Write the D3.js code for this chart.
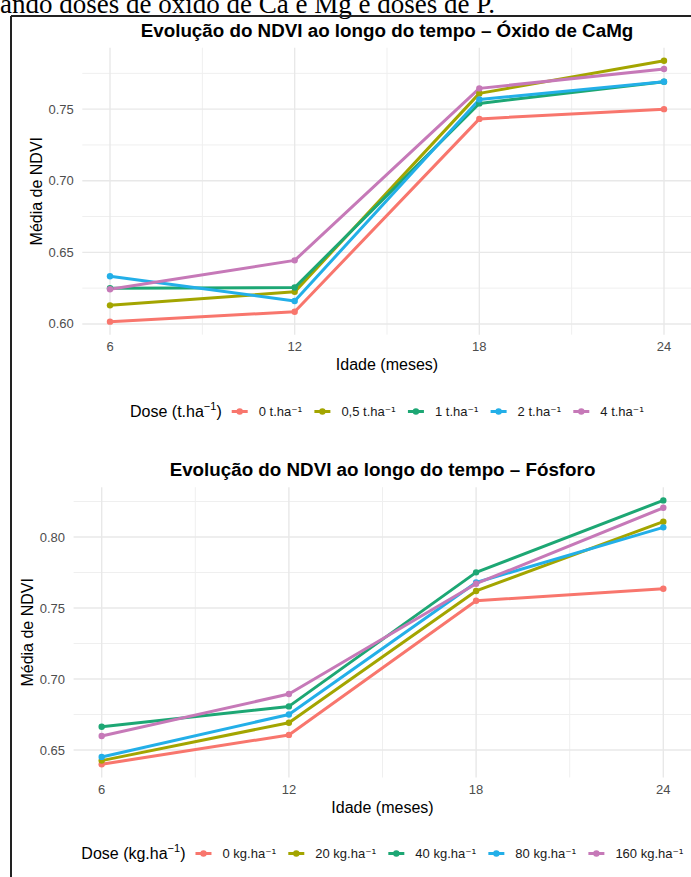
<!DOCTYPE html>
<html><head><meta charset="utf-8">
<script src="https://cdn.jsdelivr.net/npm/d3@7"></script>
<style>
html,body{margin:0;padding:0;background:#fff;}
svg{display:block;}
text{font-family:"Liberation Sans",Arial,sans-serif;}
</style></head>
<body>
<svg id="chart" width="691" height="877"></svg>
<script>
// ---- data ----
const months = [6, 12, 18, 24];
const monthTicks = ["6", "12", "18", "24"];
const camgDoses = ["0 t.ha⁻¹", "0,5 t.ha⁻¹", "1 t.ha⁻¹", "2 t.ha⁻¹", "4 t.ha⁻¹"];
const camg0 = [0.6016, 0.6085, 0.7432, 0.7500];
const camg05 = [0.6130, 0.6224, 0.7610, 0.7838];
const camg1 = [0.6249, 0.6254, 0.7540, 0.7692];
const camg2 = [0.6333, 0.6160, 0.7568, 0.7692];
const camg4 = [0.6242, 0.6444, 0.7645, 0.7780];
const camgTicks = [0.60, 0.65, 0.70, 0.75];
const pDoses = ["0 kg.ha⁻¹", "20 kg.ha⁻¹", "40 kg.ha⁻¹", "80 kg.ha⁻¹", "160 kg.ha⁻¹"];
const p0 = [0.6399, 0.6606, 0.7551, 0.7636];
const p20 = [0.6425, 0.6692, 0.7620, 0.8108];
const p40 = [0.6664, 0.6807, 0.7751, 0.8258];
const p80 = [0.6451, 0.6750, 0.7680, 0.8068];
const p160 = [0.6598, 0.6894, 0.7671, 0.8206];
const pTicks = [0.65, 0.70, 0.75, 0.80];
const colors = ["#F8766D", "#A3A500", "#1DA774", "#23AFE8", "#C679B8"];

const svg = d3.select("#chart");

// header text and frame
svg.append("text").attr("x", 0).attr("y", 13)
  .style("font-family", "'Liberation Serif','Times New Roman',serif")
  .style("font-size", "27px").attr("fill", "#000")
  .text("ando doses de óxido de Ca e Mg e doses de P.");
svg.append("line").attr("x1", 11).attr("x2", 691).attr("y1", 16).attr("y2", 16)
  .attr("stroke", "#222").attr("stroke-width", 2);
svg.append("line").attr("x1", 11).attr("x2", 11).attr("y1", 16).attr("y2", 877)
  .attr("stroke", "#222").attr("stroke-width", 2);

function expand(vals) {
  const ext = d3.extent(vals);
  const pad = (ext[1] - ext[0]) * 0.05;
  return [ext[0] - pad, ext[1] + pad];
}

function panel(cfg) {
  const g = svg.append("g");
  const xd = expand(months);
  const x = d3.scaleLinear().domain(xd).range([cfg.left, cfg.right]);
  const allVals = cfg.series.flat();
  const y = d3.scaleLinear().domain(expand(allVals)).range([cfg.bottom, cfg.top]);

  // minor grid
  const xMinor = d3.range(months[0] + 3, months[3], 6);
  const yMinor = cfg.yTicks.map(v => v + 0.025).concat([cfg.yTicks[0] - 0.025])
    .filter(v => v > y.domain()[0] && v < y.domain()[1]);
  g.selectAll(".xmin").data(xMinor).join("line")
    .attr("x1", d => x(d)).attr("x2", d => x(d)).attr("y1", cfg.top).attr("y2", cfg.bottom)
    .attr("stroke", "#efefef").attr("stroke-width", 1);
  g.selectAll(".ymin").data(yMinor).join("line")
    .attr("x1", cfg.left).attr("x2", cfg.right).attr("y1", d => y(d)).attr("y2", d => y(d))
    .attr("stroke", "#efefef").attr("stroke-width", 1);
  // major grid
  g.selectAll(".xmaj").data(months).join("line")
    .attr("x1", d => x(d)).attr("x2", d => x(d)).attr("y1", cfg.top).attr("y2", cfg.bottom)
    .attr("stroke", "#e8e8e8").attr("stroke-width", 1.4);
  g.selectAll(".ymaj").data(cfg.yTicks).join("line")
    .attr("x1", cfg.left).attr("x2", cfg.right).attr("y1", d => y(d)).attr("y2", d => y(d))
    .attr("stroke", "#e8e8e8").attr("stroke-width", 1.4);

  // tick labels
  g.selectAll(".xt").data(months).join("text")
    .attr("x", d => x(d)).attr("y", cfg.bottom + 16).attr("text-anchor", "middle")
    .attr("fill", "#4d4d4d").style("font-size", "13px")
    .text((d, i) => monthTicks[i]);
  g.selectAll(".yt").data(cfg.yTicks).join("text")
    .attr("x", cfg.left - 8.5).attr("y", d => y(d)).attr("dy", "0.35em").attr("text-anchor", "end")
    .attr("fill", "#4d4d4d").style("font-size", "13px")
    .text(d => d3.format(".2f")(d));

  // axis titles
  g.append("text").attr("x", (cfg.left + cfg.right) / 2).attr("y", cfg.bottom + 35)
    .attr("text-anchor", "middle").style("font-size", "16px").attr("fill", "#000")
    .text("Idade (meses)");
  g.append("text")
    .attr("transform", `translate(${cfg.ytitleX},${(cfg.top + cfg.bottom) / 2}) rotate(-90)`)
    .attr("text-anchor", "middle").style("font-size", "16px").attr("fill", "#000")
    .text("Média de NDVI");

  // title
  g.append("text").attr("x", (cfg.left + cfg.right) / 2).attr("y", cfg.titleY)
    .attr("text-anchor", "middle").style("font-size", "18.8px").style("font-weight", "bold")
    .attr("fill", "#000").text(cfg.title);

  // lines then points
  const line = d3.line().x((d, i) => x(months[i])).y(d => y(d));
  g.selectAll(".ln").data(cfg.series).join("path")
    .attr("d", d => line(d)).attr("fill", "none")
    .attr("stroke", (d, i) => colors[i]).attr("stroke-width", 3).attr("stroke-linejoin", "round");
  cfg.series.forEach((s, si) => {
    g.selectAll(".pt" + si).data(s).join("circle")
      .attr("cx", (d, i) => x(months[i])).attr("cy", d => y(d)).attr("r", 3.2)
      .attr("fill", colors[si]);
  });

  // legend
  const lg = svg.append("g");
  const title = lg.append("text").attr("y", cfg.legendY + 5.5).style("font-size", "16px").attr("fill", "#000");
  title.append("tspan").text(cfg.legendTitle);
  title.append("tspan").attr("dy", -7).style("font-size", "11px").text("−1");
  title.append("tspan").attr("dy", 7).text(")");
  const tw = title.node().getComputedTextLength();
  const labels = cfg.labels.map(l => {
    const t = lg.append("text").attr("y", cfg.legendY + 4.5).style("font-size", "13px")
      .attr("fill", "#1a1a1a");
    const base = l.replace("⁻¹", "");
    t.append("tspan").text(base);
    t.append("tspan").style("font-family", "'DejaVu Sans',sans-serif").style("font-size", "12px").text("⁻¹");
    return {t, w: t.node().getComputedTextLength()};
  });
  const keyW = 16, gapTK = 10, gapKL = 11, gapLK = 12;
  let total = tw + labels.reduce((a, l) => a + gapTK + keyW + gapKL + l.w, 0) - 0;
  total += (labels.length - 1) * (gapLK - gapTK);
  let cx = (cfg.left + cfg.right) / 2 - total / 2;
  title.attr("x", cx);
  cx += tw + gapTK;
  labels.forEach((l, i) => {
    lg.append("line").attr("x1", cx).attr("x2", cx + keyW).attr("y1", cfg.legendY).attr("y2", cfg.legendY)
      .attr("stroke", colors[i]).attr("stroke-width", 3);
    lg.append("circle").attr("cx", cx + keyW / 2).attr("cy", cfg.legendY).attr("r", 3.2).attr("fill", colors[i]);
    cx += keyW + gapKL;
    l.t.attr("x", cx);
    cx += l.w + gapLK;
  });
}

panel({
  series: [camg0, camg05, camg1, camg2, camg4], yTicks: camgTicks, labels: camgDoses,
  left: 82.3, right: 691.7, top: 47.7, bottom: 334.7, ytitleX: 42, titleY: 37,
  title: "Evolução do NDVI ao longo do tempo – Óxido de CaMg",
  legendTitle: "Dose (t.ha", legendY: 411.5
});
panel({
  series: [p0, p20, p40, p80, p160], yTicks: pTicks, labels: pDoses,
  left: 73.6, right: 691.4, top: 487.2, bottom: 777.5, ytitleX: 33, titleY: 476,
  title: "Evolução do NDVI ao longo do tempo – Fósforo",
  legendTitle: "Dose (kg.ha", legendY: 853.5
});
</script>
</body></html>
